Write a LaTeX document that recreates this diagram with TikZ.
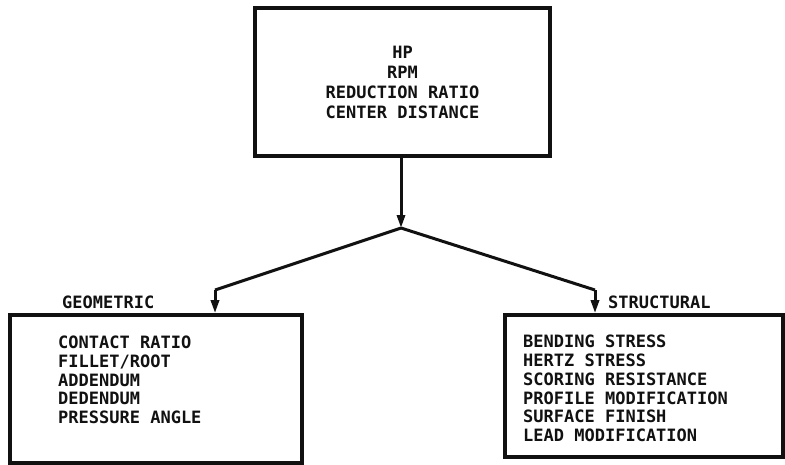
\documentclass[tikz,border=0pt]{standalone}
\usepackage{fontspec}
\setmonofont{DejaVu Sans Mono}
\usetikzlibrary{arrows.meta,positioning}
\definecolor{gdInk}{HTML}{111111}
\tikzset{
  frame/.style   ={draw=gdInk,line width=3.6pt,inner sep=0pt},
  items/.style   ={font=\ttfamily\bfseries\fontsize{17}{18.8}\selectfont,
                   text=gdInk,align=left,inner sep=0pt},
  topitems/.style={items,align=center,font=\ttfamily\bfseries\fontsize{17}{20}\selectfont},
  branch/.style  ={font=\ttfamily\bfseries\fontsize{17}{20}\selectfont,text=gdInk,inner sep=0pt},
  flow/.style    ={-{Triangle[length=13pt,width=8pt]},gdInk,line width=3pt},
  leg/.style     ={gdInk,line width=3pt,line join=round},
}
\begin{document}
\begin{tikzpicture}[x=1pt,y=-1pt]
\useasboundingbox (0,0) rectangle (785,464);

% design inputs
\node[frame,topitems,minimum width=295pt,minimum height=148pt] (inputs) at (402.5,82)
  {HP\\RPM\\REDUCTION RATIO\\CENTER DISTANCE};

% the two groups of parameters
\node[frame,minimum width=292pt,minimum height=148pt] (geo) at (156,389) {};
\node[items,anchor=west] (geolist) at (58,380)
  {CONTACT RATIO\\FILLET/ROOT\\ADDENDUM\\DEDENDUM\\PRESSURE ANGLE};
\node[frame,minimum width=278pt,minimum height=142pt] (struct) at (644,386) {};
\node[items,anchor=west] (structlist) at (523,388.5)
  {BENDING STRESS\\HERTZ STRESS\\SCORING RESISTANCE\\PROFILE MODIFICATION\\SURFACE FINISH\\LEAD MODIFICATION};

\node[branch,anchor=base west] (geolbl) at (62,308) {GEOMETRIC};
\node[branch,anchor=base west] (structlbl) at (608,308) {STRUCTURAL};

% split
\coordinate (split) at (401,228);
\coordinate (geobend) at (215,290);
\coordinate (structbend) at (595,290);

\draw[flow] (inputs.south -| split) -- (split);
\draw[leg] (split) -- (geobend);
\draw[flow] (geobend) -- (geobend |- geo.north);
\draw[leg] (split) -- (structbend);
\draw[flow] (structbend) -- (structbend |- struct.north);
\end{tikzpicture}
\end{document}
